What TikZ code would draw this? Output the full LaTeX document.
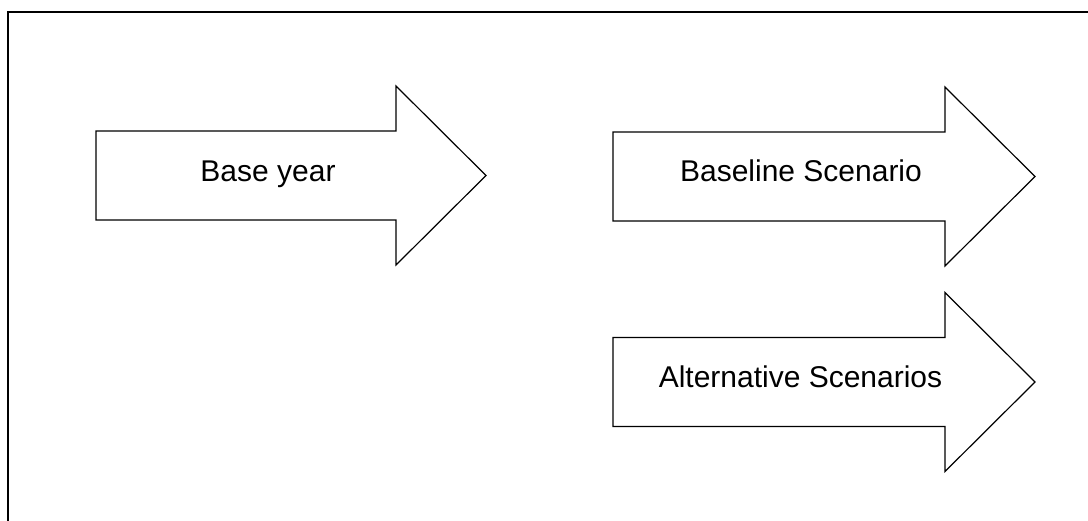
\documentclass[tikz,border=0pt]{standalone}
\usepackage{fontspec}
\setmainfont{Liberation Sans}
\tikzset{
  frameline/.style={line width=1pt, black},
  blockarrow/.style={draw=black, line width=0.6pt, fill=white, line join=miter},
  arrowlabel/.style={anchor=base, inner sep=0pt, font=\fontsize{15pt}{18pt}\selectfont}
}
% block arrow: left edge, centre line, start of the head
\newcommand\drawblockarrow[4]{%
  \draw[blockarrow] (#2,#3-44.5) -- (#4,#3-44.5) -- (#4,#3-89.5)
    -- (#4+90,#3) -- (#4,#3+89.5) -- (#4,#3+44.5) -- (#2,#3+44.5) -- cycle;
  \coordinate (#1) at ({(#2+#4)/2},#3);
}
\begin{document}
\begin{tikzpicture}[x=0.5pt,y=-0.5pt]
  \useasboundingbox (0,0) rectangle (1088,520);
  % outer frame (only its top and left edges fall inside the page)
  \coordinate (fbl) at (8,540);
  \coordinate (ftl) at (8,12);
  \coordinate (ftr) at (1100,12);
  \draw[frameline] (fbl) -- (ftl) -- (ftr);

  \drawblockarrow{base}{96}{175.5}{396}
  \drawblockarrow{baseline}{613}{176.5}{945}
  \drawblockarrow{alt}{613}{382}{945}

  \node[arrowlabel] (baseT) at (268,181) {Base year};
  \node[arrowlabel] (baselineT) at (801,181) {Baseline Scenario};
  \node[arrowlabel] (altT) at (800.5,387) {Alternative Scenarios};
\end{tikzpicture}
\end{document}
